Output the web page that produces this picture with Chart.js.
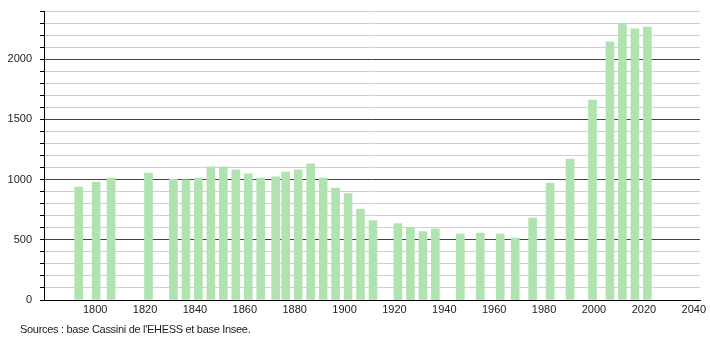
<!DOCTYPE html>
<html>
<head>
<meta charset="utf-8">
<script src="https://cdn.jsdelivr.net/npm/chart.js@4/dist/chart.umd.min.js"></script>
<style>
  html, body { margin: 0; padding: 0; background: #fff; }
  #wrap { position: relative; width: 710px; height: 340px; }
  #source {
    position: absolute; left: 20px; top: 323px;
    font: 11px "Liberation Sans", Arial, sans-serif; color: #222;
    letter-spacing: -0.3px;
  }
</style>
</head>
<body>
<div id="wrap">
  <canvas id="pop-chart" width="710" height="340"></canvas>
  <div id="source">Sources : base Cassini de l'EHESS et base Insee.</div>
</div>
<script>
// Census years and population
const years = [1793, 1800, 1806, 1821, 1831, 1836, 1841, 1846, 1851, 1856, 1861, 1866,
  1872, 1876, 1881, 1886, 1891, 1896, 1901, 1906, 1911, 1921, 1926, 1931, 1936,
  1946, 1954, 1962, 1968, 1975, 1982, 1990, 1999, 2006, 2011, 2016, 2021];
const population = [938, 980, 1013, 1055, 1005, 997, 1013, 1105, 1105, 1080, 1047, 1013,
  1022, 1063, 1080, 1130, 1013, 930, 883, 756, 659, 634, 598, 568, 590,
  548, 556, 548, 515, 681, 972, 1171, 1661, 2143, 2292, 2251, 2267];
const xTicks = [1800, 1820, 1840, 1860, 1880, 1900, 1920, 1940, 1960, 1980, 2000, 2020, 2040];

function createPopulationChart() {
    const ctx = document.getElementById('pop-chart');
    const font = { family: 'Liberation Sans', size: 11 };

    const data = {
        datasets: [{
            label: 'Population',
            data: years.map((y, i) => ({ x: y + 0.4, y: population[i] })),
            backgroundColor: '#b0e3b0',
            borderWidth: 0,
            barThickness: 8
        }]
    };

    const config = {
        type: 'bar',
        data: data,
        options: {
            responsive: false,
            animation: false,
            layout: { padding: { top: 11, right: 10, bottom: 20, left: 0 } },
            plugins: {
                legend: { display: false },
                tooltip: { enabled: false }
            },
            scales: {
                x: {
                    type: 'linear',
                    min: 1779.5,
                    max: 2042.5,
                    offset: false,
                    grid: { display: false, offset: false, drawTicks: false },
                    border: { color: '#000', width: 1 },
                    afterBuildTicks: scale => { scale.ticks = xTicks.map(v => ({ value: v })); },
                    afterFit: scale => {
                        scale.height = 20;
                        scale.paddingLeft = 0;
                        scale.paddingRight = 0;
                    },
                    ticks: {
                        font: font,
                        color: '#222',
                        padding: 3,
                        maxRotation: 0,
                        autoSkip: false,
                        callback: v => String(v)
                    }
                },
                y: {
                    min: 0,
                    max: 2400,
                    grid: {
                        color: c => (c.tick && c.tick.value % 500 === 0) ? '#444' : '#cfcfcf',
                        tickColor: '#000',
                        tickLength: 4
                    },
                    border: { color: '#000', width: 1 },
                    afterFit: scale => {
                        scale.width = 44;
                        scale.paddingTop = 0;
                        scale.paddingBottom = 0;
                    },
                    ticks: {
                        stepSize: 100,
                        font: font,
                        color: '#222',
                        padding: 8,
                        autoSkip: false,
                        callback: v => (v % 500 === 0 ? String(v) : '')
                    }
                }
            }
        }
    };

    new Chart(ctx, config);
}

createPopulationChart();
</script>
</body>
</html>
